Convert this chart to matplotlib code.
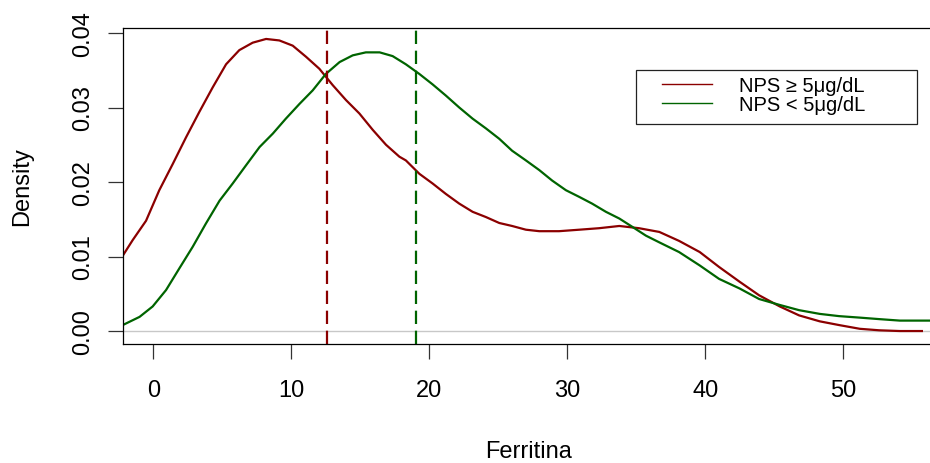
import matplotlib

matplotlib.use("Agg")
import matplotlib.pyplot as plt  # noqa: E402
from matplotlib.patches import Rectangle  # noqa: E402

plt.rcParams["font.family"] = ["Liberation Sans", "DejaVu Sans"]

# density curve for NPS >= 5 ug/dL
ferr_hi = [-2.22, -1.5, -0.53, 0.43, 1.4, 2.37, 3.33, 4.3, 5.27, 6.23, 7.2,
           8.17, 9.13, 10.1, 11.07, 12.03, 13.0, 13.96, 14.93, 15.9, 16.86,
           17.83, 18.3, 19.28, 20.24, 21.2, 22.17, 23.14, 24.1, 25.07, 26.0,
           27.0, 27.97, 29.4, 30.87, 32.3, 33.77, 35.2, 36.67, 38.1, 39.6,
           41.0, 42.5, 43.9, 45.4, 46.8, 48.3, 49.7, 51.2, 52.6, 54.1, 55.7]
dens_hi = [0.0101, 0.0122, 0.0148, 0.0189, 0.0224, 0.0260, 0.0294, 0.0327,
           0.0358, 0.0377, 0.0387, 0.0392, 0.0390, 0.0383, 0.0368, 0.0352,
           0.0330, 0.0310, 0.0292, 0.0270, 0.0250, 0.0234, 0.0229, 0.0211,
           0.0198, 0.0184, 0.0171, 0.0160, 0.0153, 0.0145, 0.0141, 0.0136,
           0.0134, 0.0134, 0.0136, 0.0138, 0.0141, 0.0138, 0.0133, 0.0121,
           0.0106, 0.0086, 0.0066, 0.0048, 0.0033, 0.0021, 0.0013, 0.0008,
           0.0003, 0.0001, 0.0000, 0.0000]

# density curve for NPS < 5 ug/dL
ferr_lo = [-2.22, -1.0, -0.05, 0.92, 1.88, 2.85, 3.8, 4.8, 5.75, 6.7, 7.7,
           8.66, 9.6, 10.6, 11.55, 12.5, 13.5, 14.45, 15.4, 16.4, 17.34, 18.3,
           19.28, 20.24, 21.2, 22.17, 23.14, 24.1, 25.07, 26.0, 27.0, 27.97,
           28.9, 29.9, 30.87, 31.8, 32.8, 33.77, 34.7, 35.7, 36.67, 38.1,
           39.6, 41.0, 42.5, 43.9, 45.4, 46.8, 48.3, 49.7, 51.2, 52.6, 54.1,
           56.7]
dens_lo = [0.0008, 0.0019, 0.0033, 0.0055, 0.0084, 0.0113, 0.0144, 0.0175,
           0.0198, 0.0222, 0.0247, 0.0265, 0.0285, 0.0305, 0.0323, 0.0345,
           0.0361, 0.0370, 0.0374, 0.0374, 0.0369, 0.0358, 0.0345, 0.0331,
           0.0316, 0.0300, 0.0285, 0.0272, 0.0258, 0.0242, 0.0229, 0.0216,
           0.0202, 0.0189, 0.0180, 0.0171, 0.0160, 0.0151, 0.0140, 0.0128,
           0.0119, 0.0106, 0.0088, 0.0070, 0.0057, 0.0043, 0.0035, 0.0028,
           0.0023, 0.0020, 0.0018, 0.0016, 0.0014, 0.0014]

medians = [12.6, 19.05]
labels = ["NPS \u2265 5\u03bcg/dL", "NPS < 5\u03bcg/dL"]
colors = ["#8b0000", "#006400"]

xticks = [0, 10, 20, 30, 40, 50]
yticks = [0.00, 0.01, 0.02, 0.03, 0.04]

fig = plt.figure(figsize=(9.3, 4.64), dpi=100)
ax = fig.add_axes([123 / 930, 1 - 345 / 464, 812 / 930, 316 / 464])

ax.axhline(0, color="#c8c8c8", lw=1.0, zorder=1)
ax.plot(ferr_hi, dens_hi, color=colors[0], lw=1.6, label=labels[0])
ax.plot(ferr_lo, dens_lo, color=colors[1], lw=1.6, label=labels[1])
for m, c in zip(medians, colors):
    ax.axvline(m, color=c, lw=1.6, dashes=(6, 3))

ax.set_xlim(-2.2, 56.65)
ax.set_ylim(-0.00174, 0.04067)
ax.set_xticks(xticks)
ax.set_yticks(yticks)
ax.set_xticklabels([str(v) for v in xticks])
ax.set_yticklabels([f"{v:.2f}" for v in yticks])
plt.setp(ax.get_yticklabels(), rotation=90, va="center")
ax.tick_params(axis="both", length=11, width=0.9, color="#333333",
               labelsize=17)
ax.tick_params(axis="x", pad=14)
ax.tick_params(axis="y", pad=10)
for s in ax.spines.values():
    s.set_linewidth(0.9)

ax.set_xlabel("Ferritina", fontsize=17, va="baseline")
ax.xaxis.set_label_coords(0.5, -(458 - 345) / 316)
ax.set_ylabel("Density", fontsize=17, va="center")
ax.yaxis.set_label_coords((22 - 123) / 812, 0.5)

# legend frame drawn like R's box
ax.add_patch(Rectangle(((636 - 123) / 812, (345 - 125) / 316),
                       281 / 812, 54 / 316, transform=ax.transAxes,
                       facecolor="white", edgecolor="#222222", lw=0.9,
                       zorder=4))
leg = ax.legend(loc="upper left",
                bbox_to_anchor=((662 - 123) / 812, (345 - 77) / 316),
                frameon=False, fontsize=14.5, labelspacing=0.0,
                borderpad=0, borderaxespad=0, handlelength=2.5,
                handletextpad=1.3)
leg.set_zorder(5)
for line in leg.get_lines():
    line.set_linewidth(1.0)

fig.savefig("out.png", dpi=100)
